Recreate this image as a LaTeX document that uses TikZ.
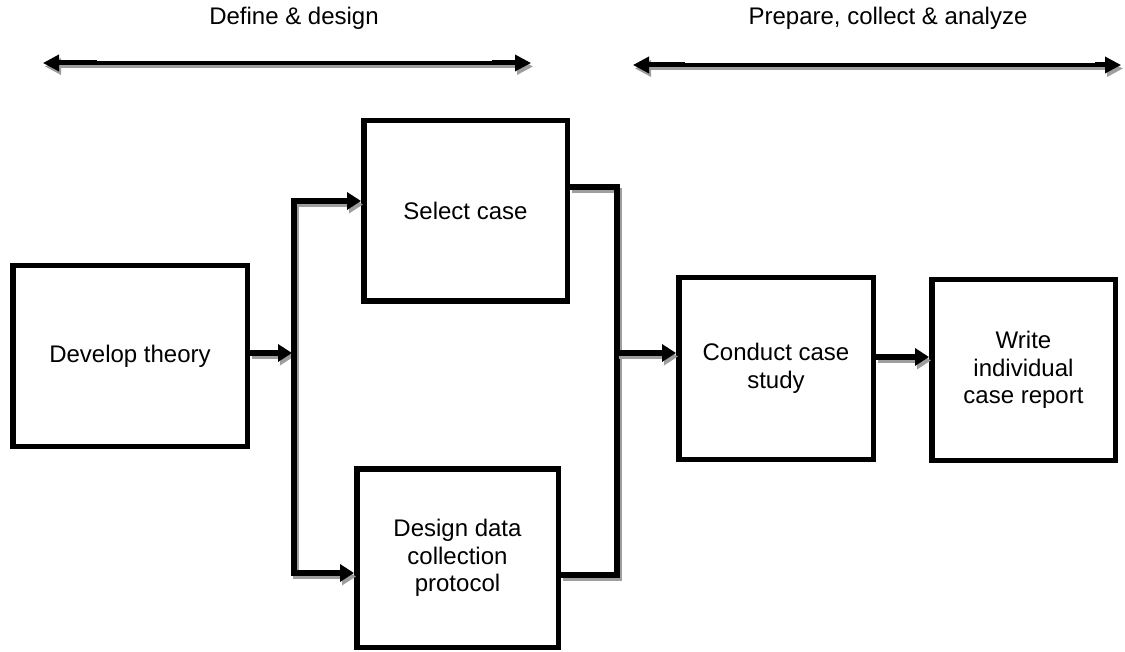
\documentclass[tikz,border=0pt]{standalone}
\usepackage{fontspec}
\setmainfont{Liberation Sans}
\usetikzlibrary{arrows.meta}
\newcommand\shconn[2]{%
  \draw[#1,draw=shadowgray,transform canvas={shift={(2pt,-3.5pt)}}] #2;
  \draw[#1] #2;}
\definecolor{shadowgray}{gray}{0.62}
\begin{document}
\begin{tikzpicture}[x=1pt,y=-1pt,
  box/.style={draw, line width=5.5pt, align=center, inner sep=0pt, font=\fontsize{24}{27.7}\selectfont},
  conn/.style={line width=5.5pt, line cap=butt, line join=miter},
  tip/.style={-{Triangle[length=14pt,width=17pt]}},
  both/.style={{Triangle[length=14pt,width=17pt]}-{Triangle[length=14pt,width=17pt]}},
  toparrow/.style={line width=3.5pt, {Triangle[length=16pt,width=16pt]}-{Triangle[length=16pt,width=16pt]}},
  lab/.style={font=\fontsize{24}{27.7}\selectfont}]
\useasboundingbox (0,0) rectangle (1125,652);

% headings
\node[lab] (t1) at (294,18) {Define \& design};
\node[lab] (t2) at (888,18) {Prepare, collect \& analyze};

% top arrows
\coordinate (a1l) at (43,63);
\coordinate (a1r) at (531,63);
\coordinate (a2l) at (633,65);
\coordinate (a2r) at (1121,65);
\shconn{toparrow}{(a1l) -- (a1r)}
\shconn{toparrow}{(a2l) -- (a2r)}
\fill (59,60) rectangle (97,63);
\fill (492,60) rectangle (515,63);
\fill (649,62) rectangle (685,65);
\fill (1095,62) rectangle (1105,65);

% boxes
\node[box, minimum width=234.5pt, minimum height=180.5pt] (dev) at (130,356) {Develop theory};
\node[box, minimum width=203.5pt, minimum height=180.5pt] (sel) at (465.5,211) {Select case};
\node[box, minimum width=201.5pt, minimum height=178.5pt] (des) at (457.5,558) {Design data\\collection\\protocol};
\node[box, minimum width=194.5pt, minimum height=181.5pt] (con) at (776,368.5) {Conduct case\\study};
\node[box, minimum width=183.5pt, minimum height=180.5pt] (wri) at (1023.5,370) {Write\\individual\\case report};

% bracket points
\coordinate (L) at (292,353);
\coordinate (Lt) at (294,201);
\coordinate (Lb) at (294,573);
\coordinate (R) at (617,353);
\coordinate (Rt) at (617,187);
\coordinate (Rb) at (617,575);
\coordinate (W) at (900,357);

% connectors
\shconn{conn,tip}{(dev.east |- L) -- (L)}
\shconn{conn,both}{(sel.west |- Lt) -- (Lt) -- (Lb) -- (des.west |- Lb)}
\shconn{conn}{(sel.east |- Rt) -- (Rt) -- (Rb) -- (des.east |- Rb)}
\shconn{conn,tip}{(R) -- (con.west |- R)}
\shconn{conn,tip}{(con.east |- W) -- (wri.west |- W)}
\end{tikzpicture}
\end{document}
